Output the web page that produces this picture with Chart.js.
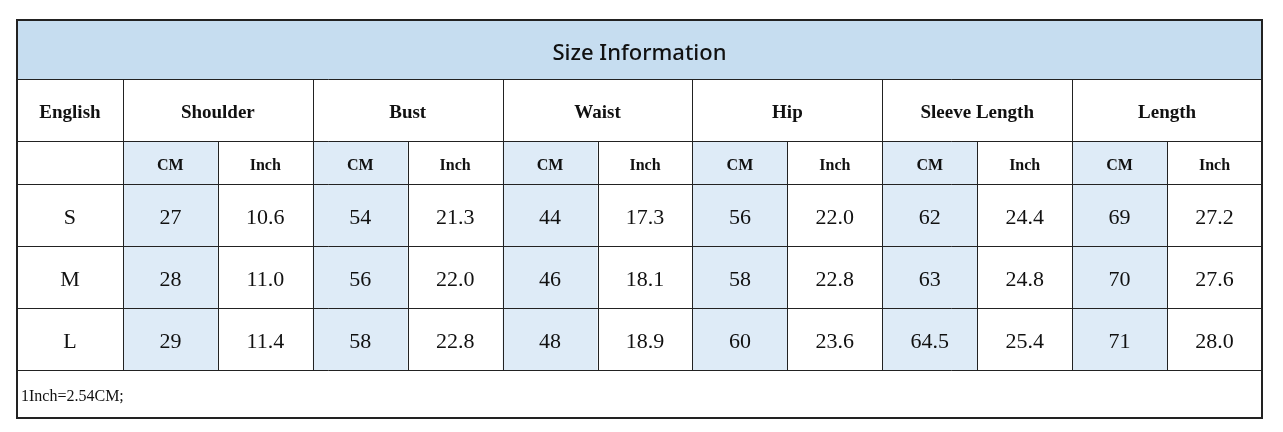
<!DOCTYPE html>
<html><head><meta charset="utf-8">
<script src="https://cdn.jsdelivr.net/npm/chart.js@4/dist/chart.umd.min.js"></script>
<style>html,body{margin:0;padding:0;background:#fff}#wrap{width:1283px;height:432px}</style>
</head><body><div id="wrap"><canvas id="c"></canvas></div>
<script>
const title = "Size Information";
const measures = ["Shoulder","Bust","Waist","Hip","Sleeve Length","Length"];
const units = ["CM","Inch"];
const sizes = ["S","M","L"];
const cmValues = [[27,54,44,56,62,69],[28,56,46,58,63,70],[29,58,48,60,64.5,71]];
const inchValues = [["10.6","21.3","17.3","22.0","24.4","27.2"],["11.0","22.0","18.1","22.8","24.8","27.6"],["11.4","22.8","18.9","23.6","25.4","28.0"]];
const note = "1Inch=2.54CM;";
const firstHeader = "English";

const colW = [106].concat(Array(12).fill(95)); // column widths in scale units
const rowH = [59,62,43,62,62,62,48];
const colEdges=[0]; colW.forEach(w=>colEdges.push(colEdges[colEdges.length-1]+w));
const rowEdges=[0]; rowH.forEach(h=>rowEdges.push(rowEdges[rowEdges.length-1]+h));

const tablePlugin={id:'table',afterDraw(chart){
  const ctx=chart.ctx, xs=chart.scales.x, ys=chart.scales.y;
  const X=v=>xs.getPixelForValue(v), Y=v=>ys.getPixelForValue(v);
  const C=i=>X(colEdges[i]), R=i=>Y(rowEdges[i]);
  const N=colW.length;
  ctx.save();
  ctx.fillStyle='#c6ddf0'; ctx.fillRect(C(0),R(0),C(N)-C(0),R(1)-R(0));
  ctx.fillStyle='#deebf7';
  for(let m=0;m<6;m++){const c=1+m*2; ctx.fillRect(C(c),R(2),C(c+1)-C(c),R(6)-R(2));}
  ctx.strokeStyle='#222'; ctx.lineWidth=1;
  const line=(x1,y1,x2,y2)=>{ctx.beginPath();ctx.moveTo(Math.round(x1)+0.5,Math.round(y1)+0.5);ctx.lineTo(Math.round(x2)+0.5,Math.round(y2)+0.5);ctx.stroke();};
  for(let r=0;r<=7;r++) line(C(0),R(r),C(N),R(r));
  line(C(0),R(0),C(0),R(7)); line(C(N),R(0),C(N),R(7));
  for(let c=1;c<N;c++){ const top = (c%2===1)?R(1):R(2); line(C(c),top,C(c),R(6)); }
  ctx.lineWidth=2; ctx.strokeRect(C(0),R(0),C(N)-C(0),R(7)-R(0));
  ctx.fillStyle='#111'; ctx.textAlign='center'; ctx.textBaseline='middle';
  const cx=(a,b)=>(C(a)+C(b))/2, cy=(a,b)=>(R(a)+R(b))/2+3;
  ctx.font='500 22px "Noto Sans"'; ctx.fillText(title,cx(0,N),cy(0,1)+1);
  ctx.font='bold 19px "Liberation Serif"';
  ctx.fillText(firstHeader,cx(0,1),cy(1,2));
  measures.forEach((m,i)=>ctx.fillText(m,cx(1+i*2,3+i*2),cy(1,2)));
  ctx.font='bold 16px "Liberation Serif"';
  for(let i=0;i<6;i++){units.forEach((u,j)=>ctx.fillText(u,cx(1+i*2+j,2+i*2+j),cy(2,3)));}
  ctx.font='22px "Liberation Serif"';
  sizes.forEach((s,r)=>{
    ctx.fillText(s,cx(0,1),cy(3+r,4+r));
    for(let i=0;i<6;i++){
      ctx.fillText(String(cmValues[r][i]),cx(1+i*2,2+i*2),cy(3+r,4+r));
      ctx.fillText(inchValues[r][i],cx(2+i*2,3+i*2),cy(3+r,4+r));
    }
  });
  ctx.font='16px "Liberation Serif"'; ctx.textAlign='left';
  ctx.fillText(note,C(0)+4,cy(6,7));
  ctx.restore();
}};

new Chart(document.getElementById('c'),{
  type:'scatter',
  data:{datasets:[{data:[]}]},
  options:{responsive:true,maintainAspectRatio:false,animation:false,
    layout:{padding:{left:17,right:21,top:20,bottom:14}},
    plugins:{legend:{display:false},tooltip:{enabled:false}},
    scales:{
      x:{type:'linear',min:0,max:colEdges[colEdges.length-1],display:false},
      y:{type:'linear',min:0,max:rowEdges[rowEdges.length-1],reverse:true,display:false}
    }},
  plugins:[tablePlugin]
});
</script></body></html>
